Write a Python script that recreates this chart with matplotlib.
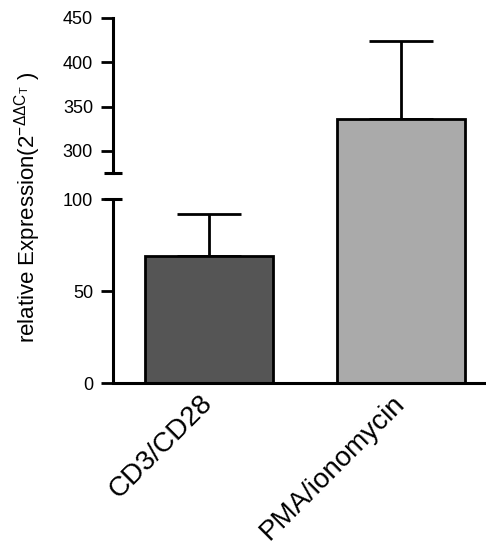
import numpy as np
import matplotlib
matplotlib.use('Agg')
import matplotlib.pyplot as plt

plt.rcParams['font.family'] = 'Liberation Sans'
plt.rcParams['mathtext.fontset'] = 'custom'
plt.rcParams['mathtext.rm'] = 'Liberation Sans'
plt.rcParams['mathtext.it'] = 'Liberation Sans:italic'

groups = ['CD3/CD28', 'PMA/ionomycin']
means = [69, 336]
errs = [23, 88]
colors = ['#555555', '#aaaaaa']
yticks = [0, 50, 100, 300, 350, 400, 450]

# broken axis: 0-100 at the bottom, 275-450 on top, small gap between
y_knots = [0, 100, 275, 450]
px_knots = [0, 184, 210, 365]


def fwd(y):
    y = np.asarray(y, float)
    out = np.interp(y, y_knots, px_knots)
    out = np.where(y < 0, y * 1.84, out)
    out = np.where(y > 450, 365 + (y - 450) * 0.887, out)
    return out


def inv(p):
    p = np.asarray(p, float)
    out = np.interp(p, px_knots, y_knots)
    out = np.where(p < 0, p / 1.84, out)
    out = np.where(p > 365, 450 + (p - 365) / 0.887, out)
    return out


fig = plt.figure(figsize=(4.86, 5.49), dpi=100)
ax = fig.add_axes([113 / 486, 166 / 549, 371 / 486, 365 / 549])
ax.set_yscale('function', functions=(fwd, inv))

x = np.arange(len(groups))
ax.errorbar(x, means, yerr=[np.zeros(len(errs)), errs], fmt='none',
            ecolor='black', elinewidth=2, capsize=23, capthick=2, zorder=1)
ax.bar(x, means, width=0.667, color=colors, edgecolor='black',
       linewidth=2, zorder=2)

ax.set_ylim(0, 450)
ax.set_xlim(-0.5, 1.432)

for s in ['top', 'right']:
    ax.spines[s].set_visible(False)
ax.spines['bottom'].set_linewidth(2.2)
ax.spines['left'].set_linewidth(2.2)
ax.spines['left'].set_bounds(275, 450)

# lower piece of the y axis and the break caps
tr = ax.get_yaxis_transform()
ax.plot([0, 0], [0, 100], transform=tr, color='black', lw=2.2,
        clip_on=False, solid_capstyle='butt')
ax.plot([0, 0], [100, 275], transform=tr, ls='none', marker='_',
        ms=12.5, mew=2.2, color='black', clip_on=False)

ax.set_yticks(yticks)
ax.set_yticklabels([str(t) for t in yticks])
ax.yaxis.set_minor_locator(matplotlib.ticker.NullLocator())
ax.tick_params(axis='y', labelsize=13, length=8.6, width=2, pad=5.8)

ax.set_xticks(x)
ax.set_xticklabels(groups, rotation=45, ha='right', va='center',
                   rotation_mode='anchor', fontsize=20)
ax.tick_params(axis='x', length=0, pad=12)

ax.set_ylabel(r'relative Expression(2$^{\mathregular{-\Delta\Delta C}_{\mathregular{T}}}$ )',
              fontsize=16)
ax.yaxis.set_label_coords(-0.19, 0.482)

fig.savefig('out.png', dpi=100)
